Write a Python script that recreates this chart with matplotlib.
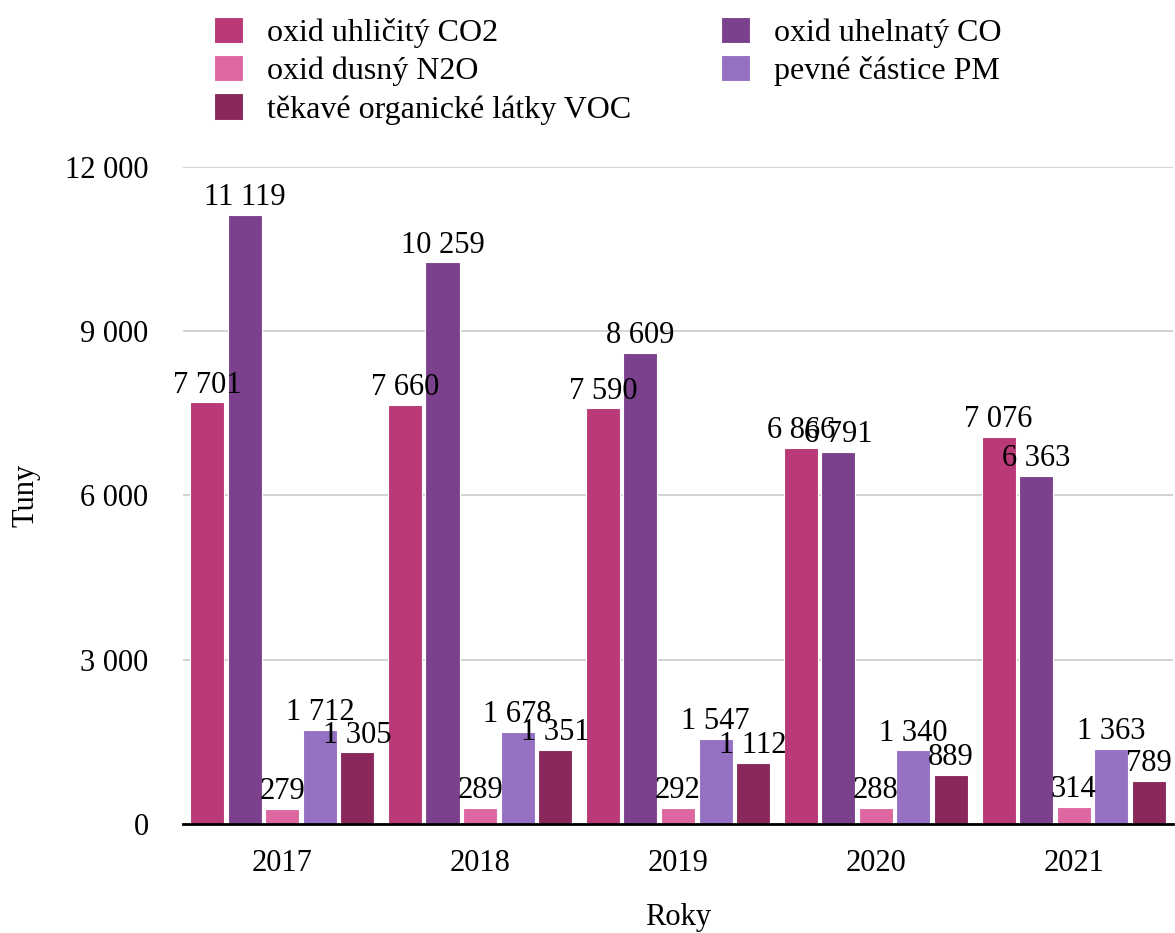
import matplotlib.pyplot as plt
import numpy as np

plt.rcParams['font.family'] = ['Liberation Serif', 'DejaVu Serif']
plt.rcParams['font.size'] = 22

years = ['2017', '2018', '2019', '2020', '2021']
series = ['oxid uhličitý CO2', 'oxid uhelnatý CO', 'oxid dusný N2O',
          'pevné částice PM', 'těkavé organické látky VOC']
co2 = [7701, 7660, 7590, 6866, 7076]
co = [11119, 10259, 8609, 6791, 6363]
n2o = [279, 289, 292, 288, 314]
pm = [1712, 1678, 1547, 1340, 1363]
voc = [1305, 1351, 1112, 889, 789]
colors = ['#B93A76', '#7B418C', '#DE67A2', '#9571C4', '#8A275B']
yticks = [0, 3000, 6000, 9000, 12000]


def fmt(v):
    return f'{v:,}'.replace(',', ' ')


fig = plt.figure(figsize=(11.75, 9.33), dpi=100)
ax = fig.add_axes([0.156, 0.117, 0.842, 0.704])

x = np.arange(len(years))
pitch = 0.19
width = 0.172
handles = {}
for i, (name, vals, c) in enumerate(zip(series, [co2, co, n2o, pm, voc], colors)):
    bars = ax.bar(x + (i - 2) * pitch, vals, width, color=c, edgecolor='white',
                  linewidth=0.8, zorder=3, label=name)
    ax.bar_label(bars, labels=[fmt(v) for v in vals], padding=2, zorder=4)
    handles[name] = bars

ax.set_xlim(-0.5, 4.5)
ax.set_ylim(0, 12000)
ax.set_yticks(yticks)
ax.set_yticklabels([fmt(v) for v in yticks])
ax.set_xticks(x)
ax.set_xticklabels(years)
ax.tick_params(axis='x', length=0, pad=18)
ax.tick_params(axis='y', length=0, pad=25)
ax.yaxis.grid(True, color='#cccccc', linewidth=1.2, zorder=0)
for s in ['top', 'right', 'left']:
    ax.spines[s].set_visible(False)
ax.spines['bottom'].set_linewidth(2)
ax.spines['bottom'].set_zorder(5)
ax.set_ylabel('Tuny', labelpad=18)
ax.set_xlabel('Roky', labelpad=18)

order = ['oxid uhličitý CO2', 'oxid dusný N2O', 'těkavé organické látky VOC',
         'oxid uhelnatý CO', 'pevné částice PM']
fig.legend([handles[n] for n in order], order, ncol=2, frameon=False,
           loc='upper left', bbox_to_anchor=(0.158, 1.013), fontsize=23,
           handlelength=0.9, handleheight=0.9, handletextpad=0.75,
           labelspacing=0.22, columnspacing=2.8)

fig.savefig('out.png', dpi=100)
